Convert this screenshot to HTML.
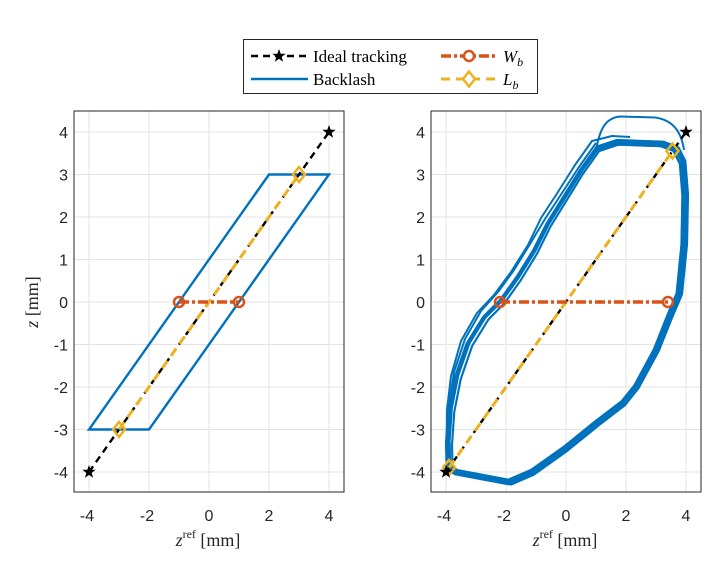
<!DOCTYPE html>
<html><head><style>body{margin:0;background:#fff}svg{display:block}</style></head><body>
<svg width="720" height="575" viewBox="0 0 720 575" xmlns="http://www.w3.org/2000/svg" font-family="Liberation Sans, sans-serif">
<defs>
<path id="star" d="M0,-7 L1.7,-2.3 6.7,-2.2 2.7,0.9 4.1,5.7 0,2.9 -4.1,5.7 -2.7,0.9 -6.7,-2.2 -1.7,-2.3Z" fill="#000"/>
<path id="loop" d="M446.7,468.3 L446,443.3 448.3,410 455,376.7 466.7,343.3 483.3,316.7 500,300 516.7,276.7 533.3,250 546.7,223.3 563.3,196.7 580,170 596.7,146.7 616.7,140 663.3,141.7 676.7,146.7 683.3,160 686,193.3 685,243.3 680,293.3 670,316.7 656.7,350 636.7,386.7 623.3,403.3 596.7,423.3 563.3,450 530,473.3 506.7,483.3 480,478.3 453.3,473.3Z" fill="none" stroke="#0072BD" stroke-width="2.2" stroke-linejoin="round"/>
</defs>
<!-- LEFT AXES -->
<g>
<g stroke="#e3e3e3" stroke-width="1">
<line x1="89" y1="111" x2="89" y2="492"/><line x1="149" y1="111" x2="149" y2="492"/><line x1="209" y1="111" x2="209" y2="492"/><line x1="269" y1="111" x2="269" y2="492"/><line x1="329" y1="111" x2="329" y2="492"/>
<line x1="74" y1="132" x2="344" y2="132"/><line x1="74" y1="174.5" x2="344" y2="174.5"/><line x1="74" y1="217" x2="344" y2="217"/><line x1="74" y1="259.5" x2="344" y2="259.5"/><line x1="74" y1="302" x2="344" y2="302"/><line x1="74" y1="344.5" x2="344" y2="344.5"/><line x1="74" y1="387" x2="344" y2="387"/><line x1="74" y1="429.5" x2="344" y2="429.5"/><line x1="74" y1="472" x2="344" y2="472"/>
</g>
<polygon points="89,429.5 149,429.5 329,174.5 269,174.5" fill="none" stroke="#0072BD" stroke-width="2.4"/>
<line x1="89" y1="472" x2="329" y2="132" stroke="#000" stroke-width="2.4" stroke-dasharray="7,5"/>
<line x1="119" y1="429.5" x2="299" y2="174.5" stroke="#EDB120" stroke-width="3" stroke-dasharray="9,6"/>
<line x1="179" y1="302" x2="239" y2="302" stroke="#D95319" stroke-width="3.5" stroke-dasharray="10,3,3,3"/>
<circle cx="179" cy="302" r="5" fill="none" stroke="#D95319" stroke-width="2.5"/><circle cx="239" cy="302" r="5" fill="none" stroke="#D95319" stroke-width="2.5"/>
<path d="M119,422 l6,7.5 -6,7.5 -6,-7.5Z M299,167 l6,7.5 -6,7.5 -6,-7.5Z" fill="none" stroke="#EDB120" stroke-width="2.5"/>
<use href="#star" x="89" y="472"/><use href="#star" x="329" y="132"/>
<rect x="74" y="111" width="270" height="381" fill="none" stroke="#262626" stroke-width="1"/>
<g font-size="16" fill="#262626" text-anchor="end">
<text x="68" y="138">4</text><text x="68" y="180.5">3</text><text x="68" y="223">2</text><text x="68" y="265.5">1</text><text x="68" y="308">0</text><text x="68" y="350.5">-1</text><text x="68" y="393">-2</text><text x="68" y="435.5">-3</text><text x="68" y="478">-4</text>
</g>
<g font-size="16" fill="#262626" text-anchor="middle">
<text x="87" y="521">-4</text><text x="147" y="521">-2</text><text x="209" y="521">0</text><text x="269" y="521">2</text><text x="329" y="521">4</text>
</g>
<text x="208" y="546" font-family="Liberation Serif, serif" font-size="18" fill="#262626" text-anchor="middle"><tspan font-style="italic">z</tspan><tspan font-size="12" dy="-8">ref</tspan><tspan dy="8"> [mm]</tspan></text>
<text transform="translate(38,302) rotate(-90)" font-family="Liberation Serif, serif" font-size="18" fill="#262626" text-anchor="middle"><tspan font-style="italic">z</tspan> [mm]</text>
</g>
<!-- RIGHT AXES -->
<g>
<g stroke="#e3e3e3" stroke-width="1">
<line x1="446" y1="111" x2="446" y2="492"/><line x1="506" y1="111" x2="506" y2="492"/><line x1="566" y1="111" x2="566" y2="492"/><line x1="626" y1="111" x2="626" y2="492"/><line x1="686" y1="111" x2="686" y2="492"/>
<line x1="431" y1="132" x2="701" y2="132"/><line x1="431" y1="174.5" x2="701" y2="174.5"/><line x1="431" y1="217" x2="701" y2="217"/><line x1="431" y1="259.5" x2="701" y2="259.5"/><line x1="431" y1="302" x2="701" y2="302"/><line x1="431" y1="344.5" x2="701" y2="344.5"/><line x1="431" y1="387" x2="701" y2="387"/><line x1="431" y1="429.5" x2="701" y2="429.5"/><line x1="431" y1="472" x2="701" y2="472"/>
</g>
<use href="#loop"/>
<use href="#loop" transform="translate(566,302) scale(0.985,0.99) translate(-566,-302)"/>
<use href="#loop" transform="translate(566,302) scale(0.97,0.98) translate(-566,-302)"/>
<use href="#loop" transform="translate(2,1)"/>
<use href="#loop" transform="translate(-1,2) translate(566,302) scale(0.98,0.985) translate(-566,-302)"/>
<use href="#loop" transform="translate(3,3) translate(566,302) scale(0.975,0.99) translate(-566,-302)"/>
<g fill="none" stroke="#0072BD" stroke-width="2" stroke-linejoin="round">
<path d="M596.7,146.7 C600,130 605,118 620,116.5 L655,117.5 C672,120 681,130 684,150"/>
<polyline points="446.5,450 447,410 451,376 461,341 477,313 494,295 511,272 528,245 541,218 558,192 575,165 592,141 612,136 630,137"/>
<polyline points="446.5,440 449,405 454,372 465,339 481,311 498,292 514,270 530,244 545,219 562,193 579,167 596,143"/>
</g>
<line x1="446" y1="472" x2="686" y2="132" stroke="#000" stroke-width="2.4" stroke-dasharray="7,5"/>
<line x1="449" y1="467.75" x2="672.5" y2="151" stroke="#EDB120" stroke-width="3" stroke-dasharray="9,6"/>
<line x1="500" y1="302" x2="668" y2="302" stroke="#D95319" stroke-width="3.5" stroke-dasharray="10,3,3,3"/>
<circle cx="500" cy="302" r="5" fill="none" stroke="#D95319" stroke-width="2.5"/><circle cx="668" cy="302" r="5" fill="none" stroke="#D95319" stroke-width="2.5"/>
<path d="M449,460 l6,7.5 -6,7.5 -6,-7.5Z M672.5,143.5 l6,7.5 -6,7.5 -6,-7.5Z" fill="none" stroke="#EDB120" stroke-width="2.5"/>
<use href="#star" x="446" y="472"/><use href="#star" x="686" y="132"/>
<rect x="431" y="111" width="270" height="381" fill="none" stroke="#262626" stroke-width="1"/>
<g font-size="16" fill="#262626" text-anchor="end">
<text x="425" y="138">4</text><text x="425" y="180.5">3</text><text x="425" y="223">2</text><text x="425" y="265.5">1</text><text x="425" y="308">0</text><text x="425" y="350.5">-1</text><text x="425" y="393">-2</text><text x="425" y="435.5">-3</text><text x="425" y="478">-4</text>
</g>
<g font-size="16" fill="#262626" text-anchor="middle">
<text x="444" y="521">-4</text><text x="504" y="521">-2</text><text x="566" y="521">0</text><text x="626" y="521">2</text><text x="686" y="521">4</text>
</g>
<text x="565" y="546" font-family="Liberation Serif, serif" font-size="18" fill="#262626" text-anchor="middle"><tspan font-style="italic">z</tspan><tspan font-size="12" dy="-8">ref</tspan><tspan dy="8"> [mm]</tspan></text>
</g>
<!-- LEGEND -->
<rect x="243.5" y="39.5" width="294" height="54" fill="#fff" stroke="#262626" stroke-width="1"/>
<line x1="251" y1="56" x2="308" y2="56" stroke="#000" stroke-width="2.4" stroke-dasharray="7,5"/>
<use href="#star" x="279" y="56"/>
<text x="313" y="62" font-family="Liberation Serif, serif" font-size="17" fill="#000">Ideal tracking</text>
<line x1="251" y1="79" x2="308" y2="79" stroke="#0072BD" stroke-width="2.4"/>
<text x="313" y="85" font-family="Liberation Serif, serif" font-size="17" fill="#000">Backlash</text>
<line x1="441" y1="56" x2="498" y2="56" stroke="#D95319" stroke-width="3.5" stroke-dasharray="10,3,3,3"/>
<circle cx="469" cy="56" r="5" fill="#fff" stroke="#D95319" stroke-width="2.5"/>
<text x="503" y="62" font-family="Liberation Serif, serif" font-size="17" font-style="italic" fill="#000">W<tspan font-size="12" dy="4">b</tspan></text>
<line x1="441" y1="79" x2="498" y2="79" stroke="#EDB120" stroke-width="3" stroke-dasharray="9,6"/>
<path d="M469,71.5 l6,7.5 -6,7.5 -6,-7.5Z" fill="#fff" stroke="#EDB120" stroke-width="2.5"/>
<text x="503" y="85" font-family="Liberation Serif, serif" font-size="17" font-style="italic" fill="#000">L<tspan font-size="12" dy="4">b</tspan></text>
</svg>
</body></html>
